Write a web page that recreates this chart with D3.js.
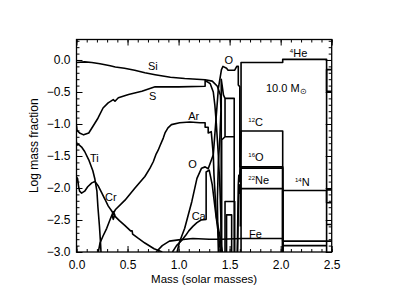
<!DOCTYPE html>
<html>
<head>
<meta charset="utf-8">
<script src="https://d3js.org/d3.v7.min.js"></script>
<style>
  body { margin:0; background:#fff; }
  svg { font-family: "Liberation Sans", Arial, Helvetica, sans-serif; }
  .curve { fill:none; stroke:#000; stroke-width:1.6; stroke-linejoin:round; }
  .axis text { font-size:12px; fill:#000; }
  .axis line { stroke:#000; stroke-width:1; }
  .axis path { display:none; }
  .lbl { font-size:11px; fill:#000; }
</style>
</head>
<body>
<script>
// composition profile: [mass (Msun), log mass fraction]
var Si = [[0.0,-0.04],[0.08,-0.03],[0.15,-0.04],[0.23,-0.06],[0.33,-0.09],[0.38,-0.11],[0.47,-0.13],[0.57,-0.16],[0.67,-0.20],[0.77,-0.23],[0.92,-0.27],[1.06,-0.29],[1.26,-0.31],[1.33,-0.33],[1.38,-0.41],[1.41,-0.55],[1.415,-0.78],[1.405,-1.2],[1.39,-1.6],[1.38,-2.2],[1.385,-2.7],[1.39,-3.0]];
var S  = [[0.0,-1.02],[0.005,-1.1],[0.03,-1.14],[0.07,-1.17],[0.12,-1.14],[0.16,-1.04],[0.21,-0.91],[0.26,-0.75],[0.31,-0.67],[0.36,-0.62],[0.377,-0.645],[0.41,-0.59],[0.51,-0.54],[0.64,-0.49],[0.77,-0.42],[0.87,-0.42],[1.0,-0.42],[1.26,-0.41],[1.26,-0.32],[1.31,-0.37],[1.34,-0.5],[1.355,-0.7],[1.37,-1.0],[1.39,-1.5],[1.405,-2.0],[1.415,-2.5],[1.42,-3.0]];
var Ar = [[0.214,-3.0],[0.23,-2.86],[0.26,-2.75],[0.296,-2.63],[0.335,-2.47],[0.36,-2.37],[0.375,-2.42],[0.36,-2.49],[0.35,-2.43],[0.38,-2.34],[0.475,-2.19],[0.573,-2.0],[0.67,-1.82],[0.72,-1.69],[0.752,-1.59],[0.78,-1.47],[0.80,-1.41],[0.818,-1.34],[0.85,-1.22],[0.867,-1.14],[0.896,-1.06],[0.93,-1.01],[1.01,-0.98],[1.11,-0.97],[1.21,-0.98],[1.26,-0.98],[1.26,-1.05],[1.29,-1.05],[1.29,-1.14],[1.32,-1.12],[1.34,-1.48],[1.347,-1.8],[1.37,-2.45],[1.405,-2.76],[1.42,-2.92],[1.43,-3.0]];
var Ti = [[0.0,-1.28],[0.005,-1.33],[0.02,-1.32],[0.05,-1.36],[0.08,-1.43],[0.12,-1.56],[0.16,-1.73],[0.18,-1.86],[0.2,-2.05],[0.21,-2.3],[0.225,-2.6],[0.235,-2.85],[0.24,-3.0]];
var Cr = [[0.0,-1.83],[0.01,-1.85],[0.02,-1.97],[0.03,-2.05],[0.05,-2.08],[0.08,-2.05],[0.11,-1.98],[0.15,-1.92],[0.18,-1.9],[0.21,-1.96],[0.245,-2.07],[0.28,-2.18],[0.31,-2.28],[0.345,-2.36],[0.376,-2.44],[0.42,-2.51],[0.47,-2.58],[0.53,-2.67],[0.545,-2.67],[0.55,-2.72],[0.6,-2.78],[0.67,-2.86],[0.76,-2.95],[0.84,-3.0]];
var Ca = [[0.94,-3.0],[0.98,-2.9],[1.03,-2.82],[1.07,-2.74],[1.1,-2.67],[1.14,-2.6],[1.18,-2.54],[1.22,-2.5],[1.27,-2.49],[1.27,-1.75],[1.30,-1.72],[1.33,-1.95],[1.36,-2.35],[1.39,-2.72],[1.41,-3.0]];
var O  = [[0.985,-3.0],[1.01,-2.84],[1.06,-2.63],[1.13,-2.21],[1.18,-1.85],[1.225,-1.69],[1.26,-1.67],[1.29,-1.70],[1.34,-1.48],[1.39,-0.44],[1.42,-0.15],[1.435,-0.10],[1.47,-0.13],[1.485,-0.16],[1.55,-0.16],[1.57,-0.10],[1.585,-0.10],[1.585,-0.39],[1.60,-0.42],[1.60,-1.67],[2.02,-1.67],[2.02,-3.0],null,[2.45,-2.03],[2.5,-2.03]];
var Ne = [[1.418,-3.0],[1.418,-0.3],[1.44,-0.55],[1.455,-0.6],[1.545,-0.6],[1.545,-3.0],null,[1.605,-2.6],[1.61,-1.69],[2.02,-1.69],[2.02,-3.0]];
var Mg = [[1.422,-3.0],[1.422,-1.25],[1.455,-1.2],[1.455,-0.6],null,[1.455,-1.2],[1.545,-1.2],null,[2.02,-2.9],[2.45,-2.9]];
var Na = [[1.455,-3.0],[1.455,-2.21],[1.55,-2.21],[1.55,-3.0]];
var Al = [[1.47,-3.0],[1.47,-2.42],[1.52,-2.42],[1.52,-3.0]];
var C12 = [[1.575,-3.0],[1.585,-1.95],[1.59,-1.8],[1.597,-1.9],[1.605,-1.5],[1.612,-1.11],[2.02,-1.11],[2.02,-3.0],null,[2.45,-2.57],[2.5,-2.57]];
var Ne22 = [[1.578,-3.0],[1.585,-2.35],[1.59,-2.1],[1.595,-1.95],[1.60,-2.08],[1.608,-2.01],[2.02,-2.01],[2.02,-3.0]];
var N14 = [[2.02,-3.0],[2.02,-2.04],[2.45,-2.04],[2.45,-2.23],[2.5,-2.23]];
var He4 = [[1.612,-3.0],[1.612,-0.04],[2.02,-0.04],[2.02,0.01],[2.45,0.01],[2.45,-0.49],[2.5,-0.49]];
var H1 = [[2.45,-3.0],[2.45,-0.15],[2.5,-0.15]];
var Fe = [[0.78,-3.0],[0.84,-2.9],[0.91,-2.83],[1.0,-2.81],[1.14,-2.79],[1.3,-2.8],[1.42,-2.8],[1.62,-2.79],[2.02,-2.79],[2.02,-2.83],[2.5,-2.83]];

var xTicks = [0.0, 0.5, 1.0, 1.5, 2.0, 2.5];
var yTicks = [0.0, -0.5, -1.0, -1.5, -2.0, -2.5, -3.0];

// labels: [sup, text, mass, logX]
var labels = [["","Si",0.70,-0.15],["","S",0.71,-0.62],["","Ar",1.095,-0.93],["","Ti",0.132,-1.59],
  ["","Cr",0.279,-2.21],["","O",1.095,-1.69],["","Ca",1.128,-2.5],["","O",1.45,-0.07],["","Fe",1.69,-2.78],
  ["4","He",2.09,0.04],["12","C",1.683,-1.03],["16","O",1.683,-1.58],["22","Ne",1.683,-1.945],["14","N",2.14,-1.97]];

var W = 395, H = 305;
var svg = d3.select("body").append("svg").attr("width", W).attr("height", H);

var x = d3.scaleLinear().domain([0, 2.5]).range([76.5, 331.7]);
var y = d3.scaleLinear().domain([-3, 0.32]).range([252, 39.5]);

svg.append("clipPath").attr("id", "clip").append("rect")
  .attr("x", x(0)).attr("y", y(0.32)).attr("width", x(2.5) - x(0)).attr("height", y(-3) - y(0.32));

var minorX = d3.range(0, 2.501, 0.1);
var minorY = d3.range(-3, 0.321, 0.1);

// major / minor ticks, all pointing inward
svg.append("g").attr("class", "axis").attr("transform", "translate(0," + y(-3) + ")")
  .call(d3.axisBottom(x).tickValues(xTicks).tickSize(-6).tickPadding(8).tickFormat(d3.format(".1f")));
svg.append("g").attr("class", "axis").attr("transform", "translate(0," + y(-3) + ")")
  .call(d3.axisBottom(x).tickValues(minorX).tickSize(-3).tickFormat(""));
svg.append("g").attr("class", "axis").attr("transform", "translate(0," + y(0.32) + ")")
  .call(d3.axisTop(x).tickValues(xTicks).tickSize(-6).tickFormat(""));
svg.append("g").attr("class", "axis").attr("transform", "translate(0," + y(0.32) + ")")
  .call(d3.axisTop(x).tickValues(minorX).tickSize(-3).tickFormat(""));
svg.append("g").attr("class", "axis").attr("transform", "translate(" + x(0) + ",0)")
  .call(d3.axisLeft(y).tickValues(yTicks).tickSize(-6).tickPadding(6).tickFormat(d3.format(".1f")));
svg.append("g").attr("class", "axis").attr("transform", "translate(" + x(0) + ",0)")
  .call(d3.axisLeft(y).tickValues(minorY).tickSize(-3).tickFormat(""));
svg.append("g").attr("class", "axis").attr("transform", "translate(" + x(2.5) + ",0)")
  .call(d3.axisRight(y).tickValues(yTicks).tickSize(-6).tickFormat(""));
svg.append("g").attr("class", "axis").attr("transform", "translate(" + x(2.5) + ",0)")
  .call(d3.axisRight(y).tickValues(minorY).tickSize(-3).tickFormat(""));

svg.append("rect").attr("x", x(0)).attr("y", y(0.32))
  .attr("width", x(2.5) - x(0)).attr("height", y(-3) - y(0.32))
  .attr("fill", "none").attr("stroke", "#000").attr("stroke-width", 1.3);

var line = d3.line().defined(function(d){ return d !== null; })
  .x(function(d){ return x(d[0]); }).y(function(d){ return y(d[1]); });

var series = [Si, S, Ar, Ti, Cr, Ca, O, Ne, Mg, Na, Al, C12, Ne22, N14, He4, H1, Fe];
svg.append("g").attr("clip-path", "url(#clip)").selectAll("path")
  .data(series).enter().append("path")
  .attr("class", "curve").attr("d", line);

labels.forEach(function(l){
  var t = svg.append("text").attr("class", "lbl").attr("x", x(l[2])).attr("y", y(l[3]));
  if (l[0]) {
    t.append("tspan").attr("font-size", "6px").attr("dy", -4).text(l[0]);
    t.append("tspan").attr("dy", 4).text(l[1]);
  } else {
    t.text(l[1]);
  }
});

// star mass
var m = svg.append("text").attr("class", "lbl").attr("font-size", "12px")
  .attr("x", x(1.856)).attr("y", y(-0.5));
m.append("tspan").text("10.0 M");
m.append("tspan").attr("font-size", "8px").attr("dy", 2).text("\u2299");

svg.append("text").attr("x", (x(0) + x(2.5)) / 2).attr("y", 283)
  .attr("text-anchor", "middle").attr("font-size", "11.5px").text("Mass (solar masses)");
svg.append("text").attr("transform", "translate(38," + ((y(0.32) + y(-3)) / 2) + ") rotate(-90)")
  .attr("text-anchor", "middle").attr("font-size", "12px").text("Log mass fraction");
</script>
</body>
</html>
